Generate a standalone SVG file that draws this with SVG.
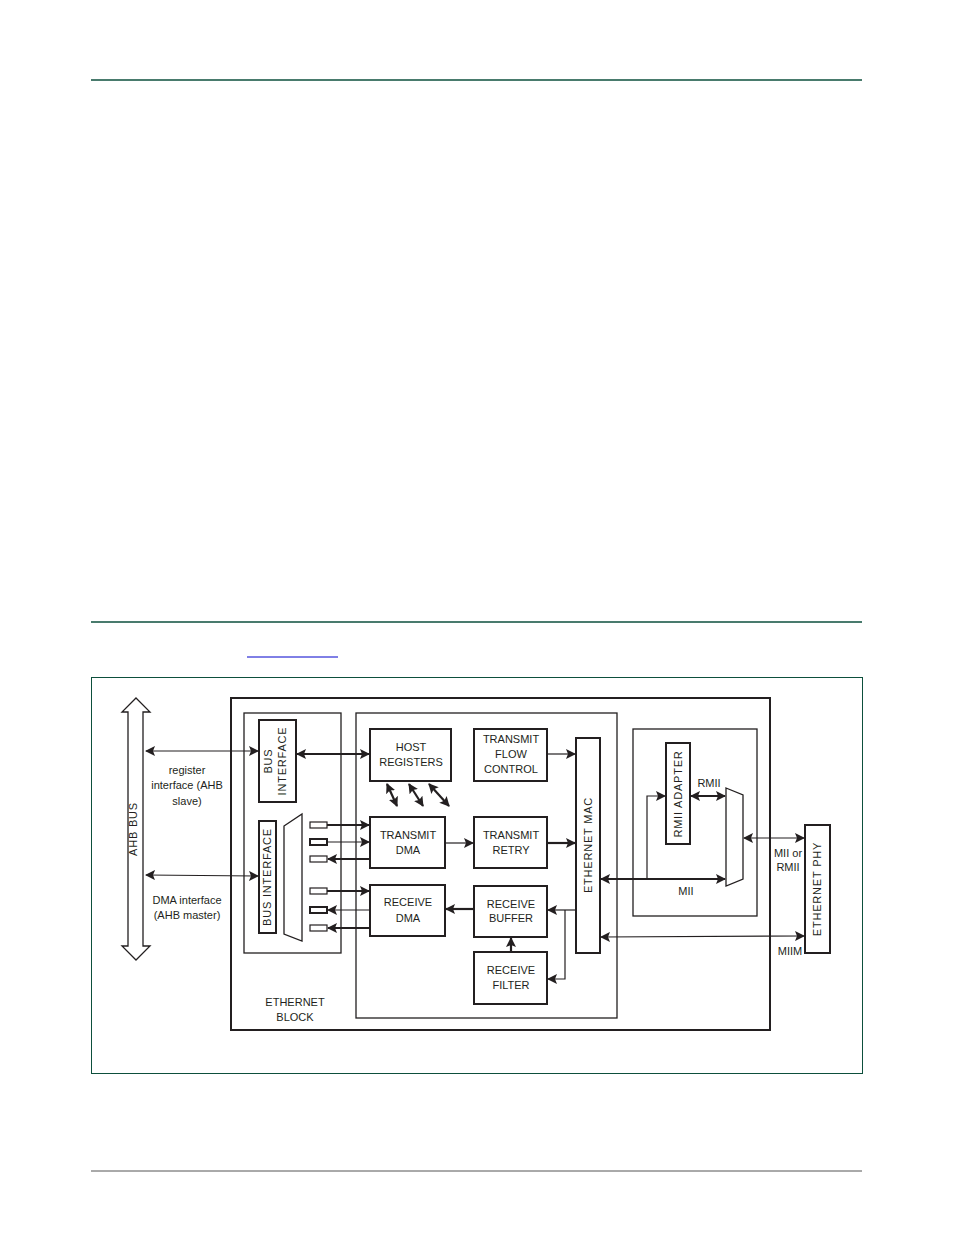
<svg xmlns="http://www.w3.org/2000/svg" width="954" height="1235" viewBox="0 0 954 1235">
<style>
text{font-family:"Liberation Sans",Arial,sans-serif;font-size:11px;fill:#231f20}
.r{letter-spacing:0.8px}
.b{fill:#fff;stroke:#231f20;stroke-width:2}
.t{fill:none;stroke:#231f20;stroke-width:1.3}
.c{stroke:#231f20;stroke-width:1.2;fill:none}
.k{stroke:#231f20;stroke-width:2.2;fill:none}
</style>
<defs>
<marker id="m" viewBox="0 0 10 10" refX="9" refY="5" markerWidth="10" markerHeight="10" orient="auto-start-reverse" markerUnits="userSpaceOnUse"><path d="M0,0L10,5L0,10L2,5z" fill="#231f20"/></marker>
</defs>
<g id="page">
<line x1="91" y1="80" x2="862" y2="80" stroke="#0d4f3c" stroke-width="1.5"/>
<line x1="91" y1="622" x2="862" y2="622" stroke="#0d4f3c" stroke-width="1.5"/>
<line x1="247" y1="657" x2="338" y2="657" stroke="#0000cc" stroke-width="1"/>
<line x1="91" y1="1171" x2="862" y2="1171" stroke="#555" stroke-width="1"/>
<rect x="91.5" y="677.5" width="771" height="396" fill="none" stroke="#0d4f3c" stroke-width="1"/>
</g>
<g id="ahb"><path d="M136,698L150,712L143,712L143,946L150,946L136,960L122,946L128,946L128,712L122,712Z" fill="#fff" stroke="#231f20" stroke-width="1.3"/><text class="r" transform="translate(137,829) rotate(-90)" text-anchor="middle">AHB BUS</text></g>
<g id="ethblock"><rect x="231" y="698" width="539" height="332" class="b"/><text x="295" y="1006" text-anchor="middle">ETHERNET</text><text x="295" y="1021" text-anchor="middle">BLOCK</text></g>
<g id="leftbox"><rect x="244" y="713" width="97" height="240" class="t"/></g>
<g id="busif1"><rect x="259" y="720" width="37" height="82" class="b"/><text class="r" transform="translate(272,761) rotate(-90)" text-anchor="middle">BUS</text><text class="r" transform="translate(286,761) rotate(-90)" text-anchor="middle">INTERFACE</text></g>
<g id="busif2"><rect x="259" y="821" width="17" height="112" class="b"/><text class="r" transform="translate(271,877) rotate(-90)" text-anchor="middle">BUS INTERFACE</text></g>
<g id="dmux"><polygon points="284,826 302,814 302,941 284,934" class="t"/></g>
<g id="ports" fill="#fff" stroke="#231f20" stroke-width="1.2">
<rect x="310" y="822" width="17" height="6"/><rect x="310" y="839" width="17" height="6" stroke-width="2"/><rect x="310" y="856" width="17" height="6"/>
<rect x="310" y="888" width="17" height="6"/><rect x="310" y="907" width="17" height="6" stroke-width="2"/><rect x="310" y="925" width="17" height="6"/>
</g>
<g id="midbox"><rect x="356" y="713" width="261" height="305" class="t"/></g>
<g id="hostreg"><rect x="370" y="729" width="81" height="52" class="b"/><text x="411" y="751" text-anchor="middle">HOST</text><text x="411" y="766" text-anchor="middle">REGISTERS</text></g>
<g id="tfc"><rect x="474" y="729" width="73" height="52" class="b"/><text x="511" y="743" text-anchor="middle">TRANSMIT</text><text x="511" y="758" text-anchor="middle">FLOW</text><text x="511" y="773" text-anchor="middle">CONTROL</text></g>
<g id="tdma"><rect x="370" y="817" width="75" height="51" class="b"/><text x="408" y="839" text-anchor="middle">TRANSMIT</text><text x="408" y="854" text-anchor="middle">DMA</text></g>
<g id="tretry"><rect x="474" y="817" width="73" height="51" class="b"/><text x="511" y="839" text-anchor="middle">TRANSMIT</text><text x="511" y="854" text-anchor="middle">RETRY</text></g>
<g id="rdma"><rect x="370" y="885" width="75" height="51" class="b"/><text x="408" y="906" text-anchor="middle">RECEIVE</text><text x="408" y="922" text-anchor="middle">DMA</text></g>
<g id="rbuf"><rect x="474" y="886" width="73" height="51" class="b"/><text x="511" y="908" text-anchor="middle">RECEIVE</text><text x="511" y="922" text-anchor="middle">BUFFER</text></g>
<g id="rfilter"><rect x="474" y="952" width="73" height="52" class="b"/><text x="511" y="974" text-anchor="middle">RECEIVE</text><text x="511" y="989" text-anchor="middle">FILTER</text></g>
<g id="mac"><rect x="576" y="738" width="24" height="215" class="b"/><text class="r" transform="translate(592,845) rotate(-90)" text-anchor="middle">ETHERNET MAC</text></g>
<g id="rightbox"><rect x="633" y="729" width="124" height="187" class="t"/></g>
<g id="rmii"><rect x="666" y="743" width="24" height="101" class="b"/><text class="r" transform="translate(682,794) rotate(-90)" text-anchor="middle">RMII ADAPTER</text></g>
<g id="mux"><polygon points="726,788 743,795 743,879 726,886" class="t"/></g>
<g id="phy"><rect x="805" y="825" width="25" height="128" class="b"/><text class="r" transform="translate(821,889) rotate(-90)" text-anchor="middle">ETHERNET PHY</text></g>
<g id="connectors">
<line x1="146" y1="751" x2="258" y2="751" class="c" marker-start="url(#m)" marker-end="url(#m)"/>
<line x1="146" y1="875" x2="258" y2="876" class="c" marker-start="url(#m)" marker-end="url(#m)"/>
<line x1="297" y1="754" x2="369" y2="754" class="k" marker-start="url(#m)" marker-end="url(#m)"/>
<line x1="387" y1="784" x2="397" y2="806" class="k" marker-start="url(#m)" marker-end="url(#m)"/>
<line x1="409" y1="784" x2="423" y2="806" class="k" marker-start="url(#m)" marker-end="url(#m)"/>
<line x1="429" y1="784" x2="449" y2="806" class="k" marker-start="url(#m)" marker-end="url(#m)"/>
<line x1="327" y1="825" x2="369" y2="825" class="k" marker-end="url(#m)"/>
<line x1="327" y1="842" x2="369" y2="842" class="c" marker-end="url(#m)"/>
<line x1="370" y1="859" x2="328" y2="859" class="k" marker-end="url(#m)"/>
<line x1="327" y1="891" x2="369" y2="891" class="k" marker-end="url(#m)"/>
<line x1="370" y1="910" x2="328" y2="910" class="c" marker-end="url(#m)"/>
<line x1="370" y1="928" x2="328" y2="928" class="k" marker-end="url(#m)"/>
<line x1="445" y1="843" x2="473" y2="843" class="c" marker-end="url(#m)"/>
<line x1="547" y1="754" x2="575" y2="754" class="c" marker-end="url(#m)"/>
<line x1="547" y1="843" x2="575" y2="843" class="k" marker-end="url(#m)"/>
<line x1="474" y1="909" x2="446" y2="909" class="k" marker-end="url(#m)"/>
<line x1="576" y1="910" x2="548" y2="910" class="c" marker-end="url(#m)"/>
<polyline points="565,910 565,979 548,979" class="c" marker-end="url(#m)"/>
<line x1="511" y1="952" x2="511" y2="938" class="k" marker-end="url(#m)"/>
<line x1="601" y1="879" x2="725" y2="879" class="k" marker-start="url(#m)" marker-end="url(#m)"/>
<polyline points="647,879 647,796 665,796" class="c" marker-end="url(#m)"/>
<line x1="691" y1="796" x2="725" y2="796" class="k" marker-start="url(#m)" marker-end="url(#m)"/>
<line x1="744" y1="838" x2="804" y2="838" class="c" marker-start="url(#m)" marker-end="url(#m)"/>
<line x1="601" y1="937" x2="804" y2="936" class="c" marker-start="url(#m)" marker-end="url(#m)"/>
</g>
<g id="labels">
<text x="187" y="774" text-anchor="middle">register</text>
<text x="187" y="789" text-anchor="middle">interface (AHB</text>
<text x="187" y="805" text-anchor="middle">slave)</text>
<text x="187" y="904" text-anchor="middle">DMA interface</text>
<text x="187" y="919" text-anchor="middle">(AHB master)</text>
<text x="709" y="787" text-anchor="middle">RMII</text>
<text x="686" y="895" text-anchor="middle">MII</text>
<text x="788" y="857" text-anchor="middle">MII or</text>
<text x="788" y="871" text-anchor="middle">RMII</text>
<text x="790" y="955" text-anchor="middle">MIIM</text>
</g>
</svg>
